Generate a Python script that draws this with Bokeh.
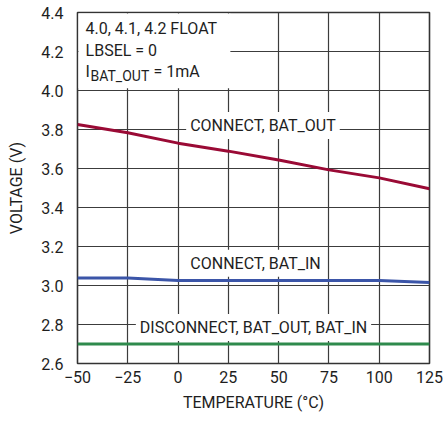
from bokeh.plotting import figure
from bokeh.models import FixedTicker, Label, BoxAnnotation, Range1d
from bokeh.embed import file_html
from bokeh.resources import INLINE

temps = [-50, -25, 0, 25, 50, 75, 100, 125]
connect_bat_out = [3.826, 3.783, 3.730, 3.689, 3.644, 3.593, 3.552, 3.496]
connect_bat_in = [3.039, 3.039, 3.026, 3.026, 3.026, 3.026, 3.026, 3.015]
disconnect = [2.70, 2.70, 2.70, 2.70, 2.70, 2.70, 2.70, 2.70]

x_ticks = [-50, -25, 0, 25, 50, 75, 100, 125]
x_tick_labels = ["\u221250", "\u221225", "0", "25", "50", "75", "100", "125"]
y_ticks = [2.6, 2.8, 3.0, 3.2, 3.4, 3.6, 3.8, 4.0, 4.2, 4.4]
y_tick_labels = ["2.6", "2.8", "3.0", "3.2", "3.4", "3.6", "3.8", "4.0", "4.2", "4.4"]

FONT = "Roboto"
TXT = "#1e1e1e"
GRID = "#3c3c3c"

p = figure(width=443, height=421, output_backend="svg", toolbar_location=None,
           x_range=Range1d(-50, 125), y_range=Range1d(2.6, 4.4),
           min_border_left=77, min_border_right=14, min_border_top=12, min_border_bottom=58)

p.outline_line_color = "#333333"
p.outline_line_width = 1.6

for ax in (p.xaxis, p.yaxis):
    ax.axis_line_color = None
    ax.major_tick_line_color = None
    ax.minor_tick_line_color = None
    ax.major_tick_out = 0
    ax.major_tick_in = 0
    ax.minor_tick_out = 0
    ax.major_label_text_font = FONT
    ax.major_label_text_font_size = "16px"
    ax.major_label_text_color = TXT
    ax.axis_label_text_font = FONT
    ax.axis_label_text_font_size = "16px"
    ax.axis_label_text_font_style = "normal"
    ax.axis_label_text_color = TXT

p.xaxis.ticker = FixedTicker(ticks=x_ticks)
p.xaxis.major_label_overrides = dict(zip(x_ticks, x_tick_labels))
p.yaxis.ticker = FixedTicker(ticks=y_ticks)
p.yaxis.major_label_overrides = dict(zip(y_ticks, y_tick_labels))
p.xaxis.axis_label = "TEMPERATURE (\u00b0C)"
p.yaxis.axis_label = "VOLTAGE (V)"
p.xaxis.major_label_standoff = 7
p.yaxis.major_label_standoff = 14
p.xaxis.axis_label_standoff = 7
p.yaxis.axis_label_standoff = 12

p.xgrid.grid_line_color = GRID
p.ygrid.grid_line_color = GRID
p.xgrid.grid_line_width = 1.2
p.ygrid.grid_line_width = 1.2

p.line(temps, connect_bat_out, line_color="#9a0a35", line_width=3)
p.line(temps, connect_bat_in, line_color="#3b55a8", line_width=3)
p.line(temps, disconnect, line_color="#2e8a4c", line_width=3)

# white box behind the condition text
p.add_layout(BoxAnnotation(left=-49.5, right=26, bottom=4.012, top=4.395,
                           fill_color="white", fill_alpha=1, line_color=None, level="underlay"))

def lab(x, y, text, size="16px", align="left", bg=None, x_offset=0, y_offset=0):
    kw = {}
    if bg:
        kw = dict(background_fill_color=bg, background_fill_alpha=1.0, padding=4)
    p.add_layout(Label(x=x, y=y, text=text, text_font=FONT, text_font_size=size,
                       text_color=TXT, text_align=align, text_baseline="middle",
                       x_offset=x_offset, y_offset=y_offset, **kw))

lab(-46, 4.318, "4.0, 4.1, 4.2 FLOAT")
lab(-46, 4.205, "LBSEL = 0")
lab(-46, 4.095, "I")
lab(-46, 4.095, "BAT_OUT", size="14px", x_offset=5, y_offset=-4)
lab(-46, 4.095, "= 1mA", x_offset=68)

lab(42.2, 3.82, "CONNECT, BAT_OUT", align="center", bg="white")
lab(38.5, 3.114, "CONNECT, BAT_IN", align="center", bg="white")
lab(37.5, 2.785, "DISCONNECT, BAT_OUT, BAT_IN", align="center", bg="white")

open("out.html", "w").write(file_html(p, INLINE))
